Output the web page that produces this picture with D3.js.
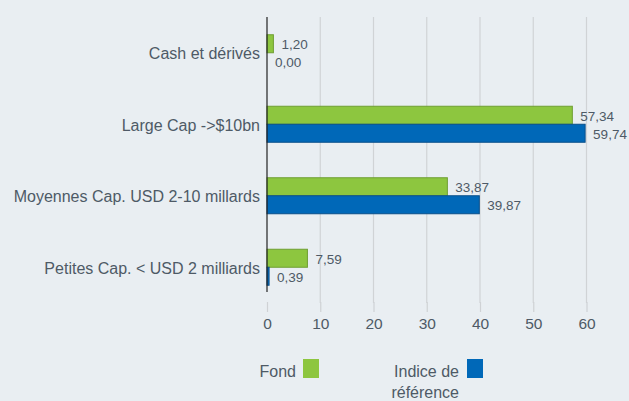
<!DOCTYPE html>
<html><head><meta charset="utf-8">
<script src="https://cdn.jsdelivr.net/npm/d3@7"></script>
<style>body{margin:0;background:#e9eef2;}svg{display:block;font-family:Arial,"Liberation Sans",sans-serif;}</style>
</head><body><svg id="c" width="629" height="401"></svg>
<script>
const categories = ["Cash et dérivés", "Large Cap ->$10bn", "Moyennes Cap. USD 2-10 millards", "Petites Cap. < USD 2 milliards"];
const fond = [1.20, 57.34, 33.87, 7.59];
const indice = [0.00, 59.74, 39.87, 0.39];
const seriesNames = ["Fond", "Indice de référence"];
const ticks = [0, 10, 20, 30, 40, 50, 60];

const svg = d3.select("#c");
svg.append("rect").attr("width", 629).attr("height", 401).attr("fill", "#e9eef2");
const x = d3.scaleLinear().domain([0, 60]).range([267, 586.5]);
const y = d3.scaleBand().domain(categories).range([17, 303]);
const fmt = v => v.toFixed(2).replace(".", ",");

// gridlines
svg.append("g").selectAll("line").data(ticks.slice(1)).join("line")
  .attr("x1", d => x(d)).attr("x2", d => x(d)).attr("y1", 17).attr("y2", 303)
  .attr("stroke", "#d0d3d6").attr("stroke-width", 1.2);

// axis
const ax = svg.append("g").attr("transform", "translate(0,302)")
  .call(d3.axisBottom(x).tickValues(ticks).tickSize(10).tickPadding(6));
ax.select(".domain").remove();
ax.selectAll(".tick line").attr("stroke", "#cfd2d5").attr("stroke-width", 1.2);
ax.selectAll(".tick text").attr("fill", "#4e5a66").attr("font-size", 15.5);

// category labels
svg.append("g").selectAll("text").data(categories).join("text")
  .attr("x", 260).attr("y", d => y(d) + y.bandwidth() / 2 + 1).attr("dy", "0.35em")
  .attr("text-anchor", "end").attr("fill", "#4e5a66").attr("font-size", 16).text(d => d);

const bh = 18;
const series = [
  { vals: fond, fill: "#8dc63f", stroke: "#6f9e32", off: -bh },
  { vals: indice, fill: "#0068b8", stroke: "#0a4f8a", off: 0 }
];
series.forEach(s => {
  const g = svg.append("g");
  g.selectAll("rect").data(categories).join("rect")
    .attr("x", x(0)).attr("y", d => y(d) + y.bandwidth() / 2 + s.off)
    .attr("width", (d, i) => x(s.vals[i]) - x(0)).attr("height", bh)
    .attr("fill", s.fill).attr("stroke", s.stroke).attr("stroke-width", 1);
  g.selectAll("text").data(categories).join("text")
    .attr("x", (d, i) => x(s.vals[i]) + 8)
    .attr("y", d => y(d) + y.bandwidth() / 2 + s.off + bh / 2 + 1).attr("dy", "0.35em")
    .attr("fill", "#4e5a66").attr("font-size", 13.5).text((d, i) => fmt(s.vals[i]));
});

// axis line
svg.append("line").attr("x1", x(0)).attr("x2", x(0)).attr("y1", 17).attr("y2", 292)
  .attr("stroke", "#222").attr("stroke-width", 1.2);

// legend
const lg = svg.append("g").attr("fill", "#4e5a66").attr("font-size", 16);
lg.append("text").attr("x", 296).attr("y", 377).attr("text-anchor", "end").text(seriesNames[0]);
lg.append("rect").attr("x", 303).attr("y", 359).attr("width", 16).attr("height", 19).attr("fill", series[0].fill);
const parts = seriesNames[1].split(" ");
lg.append("text").attr("x", 459).attr("y", 377).attr("text-anchor", "end").text(parts.slice(0, 2).join(" "));
lg.append("text").attr("x", 459).attr("y", 398).attr("text-anchor", "end").text(parts.slice(2).join(" "));
lg.append("rect").attr("x", 467).attr("y", 359).attr("width", 16).attr("height", 19).attr("fill", series[1].fill);
</script></body></html>
